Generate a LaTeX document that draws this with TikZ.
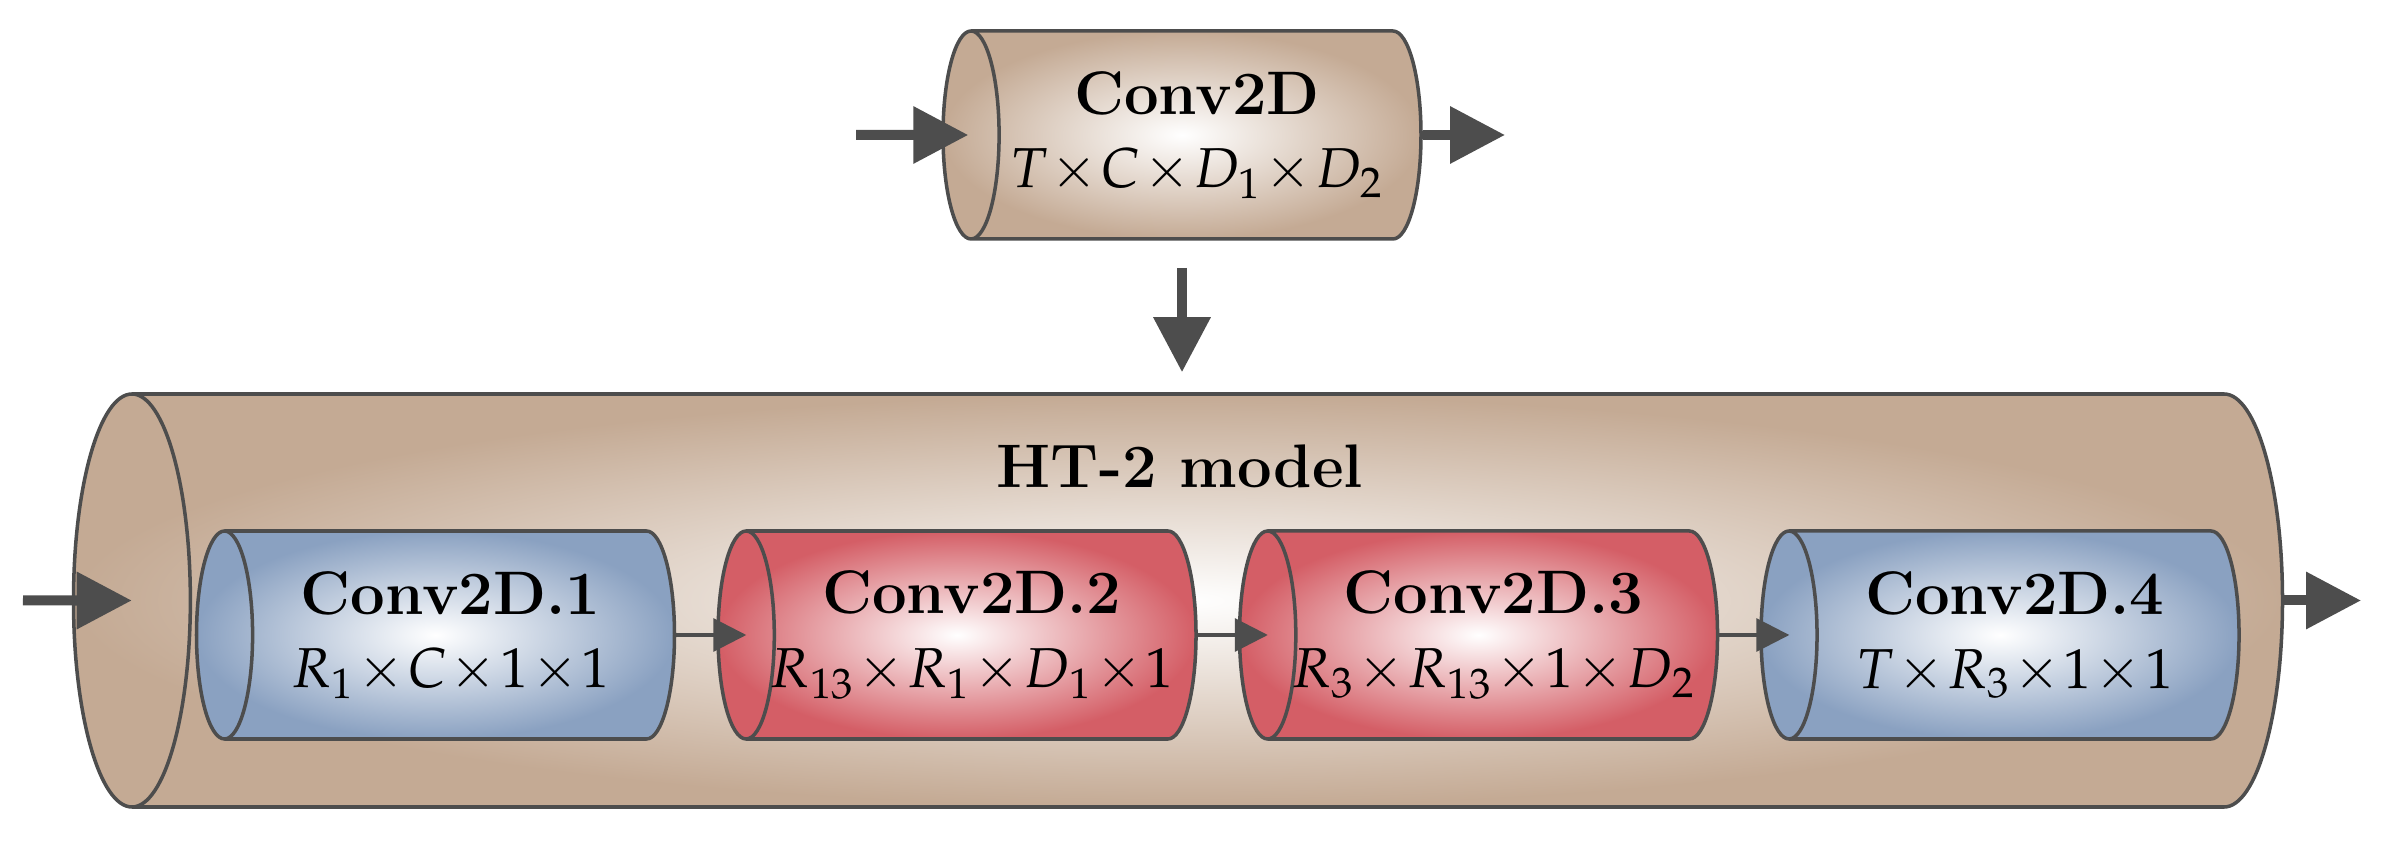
\documentclass[tikz,border=0pt]{standalone}
\usepackage{mathpazo}
\renewcommand{\rmdefault}{lmr}
\usetikzlibrary{shapes.geometric,arrows.meta,positioning}
\definecolor{tanfill}{RGB}{196,170,148}
\definecolor{bluefill}{RGB}{138,161,193}
\definecolor{redfill}{RGB}{212,94,102}
\definecolor{edgegray}{RGB}{77,77,77}
\medmuskip=1mu
\newcommand{\layerdims}[1]{{\fontsize{16}{21}\selectfont$#1$}}

\begin{document}
\begin{tikzpicture}[font=\fontsize{17.5}{21}\selectfont]
    % Stile per i nodi
    \tikzstyle{layer}=[cylinder, shape border rotate=180, aspect=0.44, draw=edgegray, line width=1pt, inner ysep=0pt, inner xsep=-0.15cm, minimum height=4.78cm, minimum width=2.08cm, align=center, shading=radial, inner color=white]
    \tikzstyle{tanlayer}=[layer, outer color=tanfill]
    \tikzstyle{bluelayer}=[layer, outer color=bluefill]
    \tikzstyle{redlayer}=[layer, outer color=redfill]
    \tikzstyle{bigarrow}=[-{Triangle[length=0.55cm,width=0.55cm]}, line width=0.1cm, edgegray]
    \tikzstyle{thinarrow}=[-{Triangle[length=0.33cm,width=0.33cm]}, line width=0.9pt, edgegray]

    \useasboundingbox (0,0) rectangle (23.96,8.66);

    % Conv2D originale
    \node[tanlayer, anchor=shape center] (conv) at (11.82,7.31) {\textbf{Conv2D}\\\layerdims{T\times C\times D_1\times D_2}};
    \coordinate (convin) at (8.56,7.31);
    \coordinate (convout) at (15.05,7.31);

    % Modello HT-2
    \node[tanlayer, aspect=0.283, text height=2.065cm, text depth=2.065cm, minimum height=22.09cm, minimum width=4.13cm, anchor=shape center] (ht) at (11.78,2.655) {};
    \node[font=\fontsize{17.5}{21}\selectfont\bfseries] (httitle) at (11.8,4.0) {HT-2 model};
    \coordinate (htin) at (0.23,2.655);
    \coordinate (htout) at (23.61,2.655);

    % Strati interni
    \node[bluelayer, anchor=shape center] (c1) at (4.355,2.31) {\textbf{Conv2D.1}\\\layerdims{R_1\times C\times 1\times 1}};
    \node[redlayer, right=0.4cm of c1] (c2) {\textbf{Conv2D.2}\\\layerdims{R_{13}\times R_1\times D_1\times 1}};
    \node[redlayer, right=0.4cm of c2] (c3) {\textbf{Conv2D.3}\\\layerdims{R_3\times R_{13}\times 1\times D_2}};
    \node[bluelayer, right=0.4cm of c3] (c4) {\textbf{Conv2D.4}\\\layerdims{T\times R_3\times 1\times 1}};

    % Frecce
    \draw[bigarrow] (convin) -- ([xshift=0.27cm]conv.west);
    \draw[bigarrow] (conv.east) -- (convout);
    \draw[bigarrow] ([yshift=-0.27cm]conv.shape center |- conv.south) -- ([yshift=0.2cm]conv.shape center |- ht.north);
    \draw[bigarrow] (htin) -- ([xshift=0.6cm]ht.west);
    \draw[bigarrow] (ht.east) -- (htout);
    \foreach \a/\b in {c1/c2,c2/c3,c3/c4}
        \draw[thinarrow] (\a.east) -- ([xshift=0.3cm]\b.west);
\end{tikzpicture}
\end{document}
